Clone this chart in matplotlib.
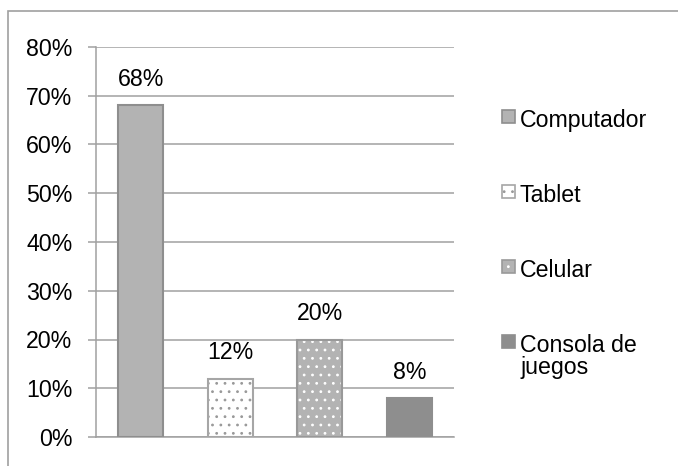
import matplotlib
matplotlib.use("Agg")
import matplotlib.pyplot as plt
from matplotlib.patches import Rectangle

plt.rcParams['font.family'] = ['Liberation Sans', 'DejaVu Sans']
plt.rcParams['hatch.linewidth'] = 0.8

# data
categories = ["Computador", "Tablet", "Celular", "Consola de\njuegos"]
values = [68, 12, 20, 8]
yticks = [0, 10, 20, 30, 40, 50, 60, 70, 80]

W, H = 678, 466
fs = 16.7
grid_c = "#a0a0a0"

# per-bar styles: face, edge, hatch, hatch colour
styles = [
    dict(face="#b3b3b3", edge="#8e8e8e", hatch=None, hcol=None),
    dict(face="white", edge="#a6a6a6", hatch="..", hcol="#999999"),
    dict(face="#b3b3b3", edge="#999999", hatch="..", hcol="white"),
    dict(face="#8e8e8e", edge="#8e8e8e", hatch=None, hcol=None),
]

fig = plt.figure(figsize=(W / 100, H / 100), dpi=100)

# outer chart frame (cut off at right/bottom like the original)
fig.add_artist(Rectangle((8 / W, -0.1), 1.2, 1 - 11 / H + 0.1,
                         transform=fig.transFigure, fill=False,
                         edgecolor="#a0a0a0", lw=1.2))

ax = fig.add_axes([96 / W, 1 - 437 / H, (454 - 96) / W, (437 - 47) / H])

x = list(range(len(values)))
for i, (v, s) in enumerate(zip(values, styles)):
    if s["hatch"]:
        ax.bar(x[i], v, width=0.5, color=s["face"], edgecolor=s["hcol"],
               hatch=s["hatch"], lw=0, zorder=3)
        ax.bar(x[i], v, width=0.5, fill=False, edgecolor=s["edge"], lw=1.5, zorder=4)
    else:
        ax.bar(x[i], v, width=0.5, color=s["face"], edgecolor=s["edge"], lw=1.5, zorder=3)
    ax.annotate(f"{v}%", (x[i], v), xytext=(0, 14), textcoords="offset points",
                ha="center", va="baseline", fontsize=fs)

ax.set_xlim(-0.5, len(values) - 0.5)
ax.set_ylim(0, 80)
ax.set_yticks(yticks)
ax.set_yticklabels([f"{t}%" for t in yticks], fontsize=fs)
ax.set_xticks([])
ax.yaxis.grid(True, color=grid_c, lw=1.1)
ax.set_axisbelow(True)
ax.tick_params(axis="y", length=6, width=1.1, color=grid_c, pad=11)
for side in ["top", "right"]:
    ax.spines[side].set_visible(False)
for side in ["left", "bottom"]:
    ax.spines[side].set_color(grid_c)
    ax.spines[side].set_linewidth(1.1)

# legend drawn by hand so the handle sits beside the first text line
base_y = 127
step = 75
line_px = 22
for i, (lab, s) in enumerate(zip(categories, styles)):
    by = base_y + i * step
    hx, hy = 502 / W, 1 - (by - 4) / H
    if s["hatch"]:
        fig.add_artist(Rectangle((hx, hy), 13 / W, 13 / H,
                                 transform=fig.transFigure, facecolor=s["face"],
                                 edgecolor=s["hcol"], hatch=s["hatch"], lw=0))
        fig.add_artist(Rectangle((hx, hy), 13 / W, 13 / H,
                                 transform=fig.transFigure, fill=False,
                                 edgecolor=s["edge"], lw=1.2))
    else:
        fig.add_artist(Rectangle((hx, hy), 13 / W, 13 / H,
                                 transform=fig.transFigure, facecolor=s["face"],
                                 edgecolor=s["edge"], lw=1.2))
    # baseline alignment uses the last line, so push down for extra lines
    ty = by + lab.count("\n") * line_px
    fig.text(520 / W, 1 - ty / H, lab, fontsize=fs, va="baseline", ha="left",
             linespacing=0.92)

fig.savefig("out.png", dpi=100)
